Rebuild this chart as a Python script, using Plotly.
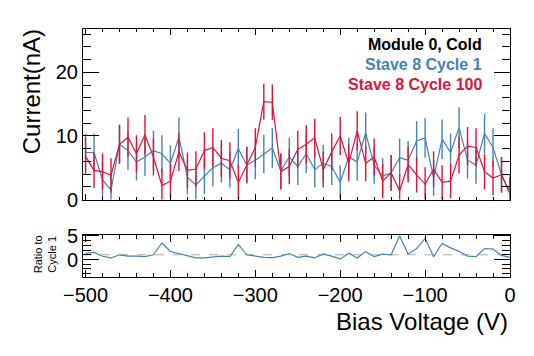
"""Leakage current vs bias voltage, Stave 8 cycle 1 / cycle 100, with ratio panel."""

import plotly.graph_objects as go

# bias voltage points (V)
voltage = [-500, -490, -480, -470, -460, -450, -440, -430, -420, -410,
           -400, -390, -380, -370, -360, -350, -340, -330, -320, -310,
           -300, -290, -280, -270, -260, -250, -240, -230, -220, -210,
           -200, -190, -180, -170, -160, -150, -140, -130, -120, -110,
           -100, -90, -80, -70, -60, -50, -40, -30, -20, -10, 0]

# Stave 8 Cycle 1 current (nA)
cycle1 = [7.4, 7.4, 3.1, 1.5, 8.7, 7.7, 5.9, 6.7, 7.7, 7.2,
          5.7, 9.8, 3.5, 2.3, 3.7, 5.0, 5.7, 4.7, 8.0, 5.4,
          6.2, 7.2, 8.1, 4.5, 6.7, 5.2, 7.2, 4.7, 5.7, 5.2,
          2.7, 6.7, 5.9, 10.5, 5.4, 3.7, 4.2, 6.6, 6.2, 9.2,
          9.7, 3.4, 9.5, 7.4, 11.3, 6.2, 5.4, 10.4, 8.2, 3.9, 1.2]
cycle1_err = [2.9, 3.0, 2.8, 2.7, 3.1, 3.0, 2.9, 3.0, 3.1, 2.9,
              2.8, 3.1, 2.7, 2.6, 2.8, 2.9, 3.0, 2.8, 3.1, 2.9,
              3.0, 3.0, 3.1, 2.8, 3.0, 2.9, 3.0, 2.8, 2.9, 2.9,
              2.7, 3.0, 2.9, 3.2, 2.9, 2.8, 2.8, 3.0, 3.0, 3.1,
              3.1, 2.8, 3.1, 3.0, 3.2, 2.9, 2.9, 3.1, 3.0, 2.8, 2.7]

# Stave 8 Cycle 100 current (nA)
cycle100 = [6.8, 4.6, 4.4, 3.8, 8.7, 9.8, 7.2, 10.2, 6.7, 2.2,
            2.9, 7.5, 4.6, 4.8, 7.7, 8.2, 6.5, 6.1, 2.7, 5.5,
            8.2, 15.4, 15.3, 4.4, 5.2, 7.9, 8.7, 9.7, 4.7, 7.5,
            10.0, 5.7, 10.8, 5.7, 6.7, 2.9, 4.2, 1.4, 5.5, 3.9,
            2.4, 4.8, 2.7, 2.9, 7.0, 8.4, 8.2, 4.4, 3.4, 3.9, 0.9]
cycle100_err = [2.9, 2.8, 2.8, 2.7, 3.0, 3.1, 2.9, 3.1, 2.9, 2.7,
                2.7, 3.0, 2.8, 2.8, 2.9, 3.0, 2.9, 2.9, 2.7, 2.8,
                3.0, 2.8, 2.8, 2.8, 2.8, 2.9, 3.0, 3.0, 2.8, 2.9,
                3.0, 2.8, 3.1, 2.8, 2.9, 2.7, 2.8, 2.6, 2.8, 2.8,
                2.7, 2.8, 2.7, 2.7, 2.9, 3.0, 3.0, 2.8, 2.7, 2.8, 2.6]

# ratio to cycle 1
ratio = [1.3, 1.5, 0.7, 0.33, 1.0, 0.73, 0.73, 0.6, 1.0, 3.5,
         1.7, 1.2, 0.73, 0.33, 0.33, 0.47, 0.73, 0.6, 3.2, 1.0,
         0.73, 0.47, 0.4, 0.73, 1.27, 0.47, 0.73, 0.33, 1.2, 0.73,
         0.07, 1.33, 0.33, 1.67, 0.6, 1.13, 1.0, 5.0, 1.13, 2.33,
         4.47, 0.6, 3.4, 2.47, 1.73, 0.73, 0.6, 2.33, 2.2, 0.87, 0.47]

legend_lines = [("Module 0, Cold", "black"),
                ("Stave 8 Cycle 1", "#4682B4"),
                ("Stave 8 Cycle 100", "#DC143C")]

BLUE = "#4682B4"
RED = "#DC143C"
FONT = "Liberation Sans"

fig = go.Figure()
for y, err, col in [(cycle1, cycle1_err, BLUE), (cycle100, cycle100_err, RED)]:
    fig.add_trace(go.Scatter(
        x=voltage, y=y, mode="lines",
        line=dict(color=col, width=1.2),
        error_y=dict(type="data", array=err, color=col, thickness=1.4, width=0),
        xaxis="x", yaxis="y", showlegend=False,
    ))

fig.add_trace(go.Scatter(
    x=voltage, y=ratio, mode="lines",
    line=dict(color=BLUE, width=1.2),
    xaxis="x2", yaxis="y2", showlegend=False,
))

# reference line at ratio = 1
fig.add_shape(type="line", xref="x2 domain", yref="y2", x0=0, x1=1, y0=1, y1=1,
              line=dict(color="#aaaaaa", width=1, dash="dash"), layer="below")

axis_common = dict(
    showline=True, linecolor="black", linewidth=1, mirror="ticks",
    ticks="inside", tickcolor="black", showgrid=False, zeroline=False,
    tickfont=dict(family=FONT, size=20, color="black"),
)

# page body adds an 8px offset, margins compensate for it
fig.update_layout(
    width=534, height=356,
    margin=dict(l=75, r=32, t=11, b=87),
    paper_bgcolor="white", plot_bgcolor="white",
    font=dict(family=FONT, color="black"),
    xaxis=dict(axis_common, domain=[0, 1], range=[-503, 0], anchor="y",
               dtick=100, ticklen=6, showticklabels=False,
               minor=dict(ticks="inside", dtick=20, ticklen=3, tickcolor="black")),
    yaxis=dict(axis_common, domain=[0.312, 1], range=[0, 26.8], anchor="x",
               dtick=10, ticklen=16,
               minor=dict(ticks="inside", dtick=2, ticklen=8, tickcolor="black")),
    xaxis2=dict(axis_common, domain=[0, 1], range=[-503, 0], anchor="y2",
                dtick=100, ticklen=7,
                minor=dict(ticks="inside", dtick=20, ticklen=4, tickcolor="black")),
    yaxis2=dict(axis_common, domain=[0, 0.1705], range=[-3.7, 5.25], anchor="x2",
                tickvals=[0, 5], ticklen=16,
                minor=dict(ticks="inside", dtick=1, ticklen=8, tickcolor="black")),
)

# legend block, right-aligned text
for i, (txt, col) in enumerate(legend_lines):
    fig.add_annotation(
        text=f"<b>{txt}</b>", xref="paper", yref="paper",
        x=0.94, y=0.938 - i * 0.0815, xanchor="right", yanchor="middle",
        showarrow=False, font=dict(family=FONT, size=16, color=col),
    )

# axis titles
fig.add_annotation(text="Current(nA)", xref="paper", yref="paper",
                   x=-0.12, y=0.748, xanchor="center", yanchor="middle",
                   textangle=-90, showarrow=False,
                   font=dict(family=FONT, size=24, color="black"))
fig.add_annotation(text="Ratio to<br>Cycle 1", xref="paper", yref="paper",
                   x=-0.09, y=0.09, xanchor="center", yanchor="middle",
                   textangle=-90, showarrow=False,
                   font=dict(family=FONT, size=11, color="black"))
fig.add_annotation(text="Bias Voltage (V)", xref="paper", yref="paper",
                   x=1.0, y=-0.178, xanchor="right", yanchor="middle",
                   showarrow=False, font=dict(family=FONT, size=24, color="black"))

fig.write_html("out.html")
